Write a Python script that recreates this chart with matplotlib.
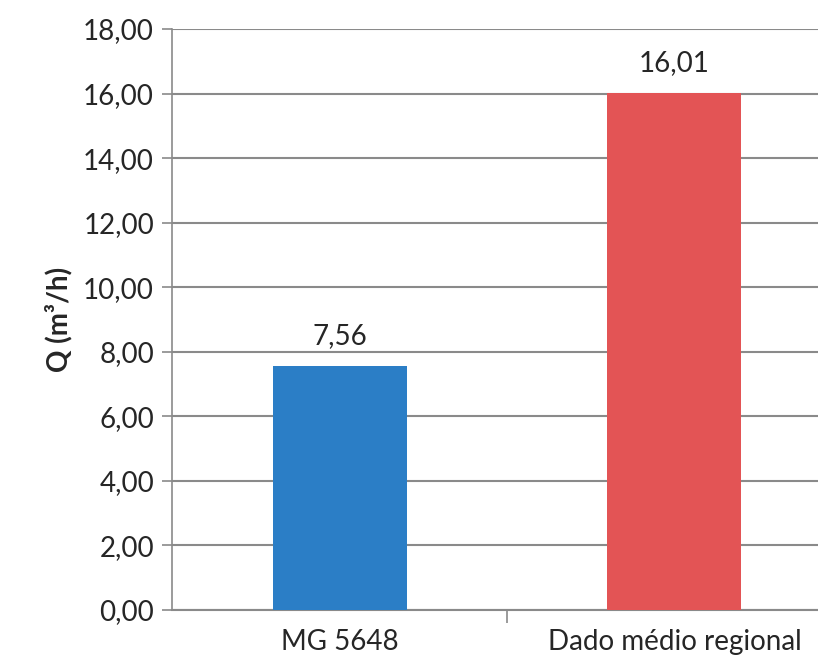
import numpy as np
import matplotlib.pyplot as plt

plt.rcParams['font.family'] = ['Lato', 'DejaVu Sans']

categorias = ['MG 5648', 'Dado médio regional']
vazao = [7.56, 16.01]
cores = ['#2B7EC6', '#E35455']
yticks = np.arange(0, 18.01, 2)

fig = plt.figure(figsize=(8.18, 6.72), dpi=100)
# axes run past the right edge, like the cropped original
ax = fig.add_axes([0.2103, 0.0923, 0.819, 0.8646])

x = np.arange(len(categorias))
ax.bar(x, vazao, width=0.4, color=cores, zorder=3)

for xi, v in zip(x, vazao):
    ax.annotate(f'{v:.2f}'.replace('.', ','), (xi, v), xytext=(0, 12),
                textcoords='offset points', ha='center', va='bottom',
                fontsize=20, color='#262626')

ax.set_xlim(-0.5, 1.5)
ax.set_ylim(0, 18)
ax.set_yticks(yticks)
ax.set_yticklabels([f'{t:.2f}'.replace('.', ',') for t in yticks])
ax.set_xticks(x)
ax.set_xticklabels(categorias)
ax.set_xticks([0.5], minor=True)

ax.grid(axis='y', color='#8a8a8a', linewidth=1.5, zorder=0)
for s in ['top', 'right']:
    ax.spines[s].set_visible(False)
ax.spines['left'].set_color('#8a8a8a')
ax.spines['left'].set_linewidth(1.2)
ax.spines['bottom'].set_color('#8a8a8a')
ax.spines['bottom'].set_linewidth(1.5)

ax.tick_params(axis='y', length=7, width=1.2, color='#8a8a8a',
               labelsize=20, labelcolor='#262626', pad=6)
ax.tick_params(axis='x', which='major', length=0, labelsize=20,
               labelcolor='#262626', pad=14)
ax.tick_params(axis='x', which='minor', length=9, width=1.2, color='#8a8a8a')

ax.set_ylabel('Q (m³/h)', fontsize=20, fontweight='bold', color='#262626',
              labelpad=8)

fig.savefig('out.png', dpi=100)
